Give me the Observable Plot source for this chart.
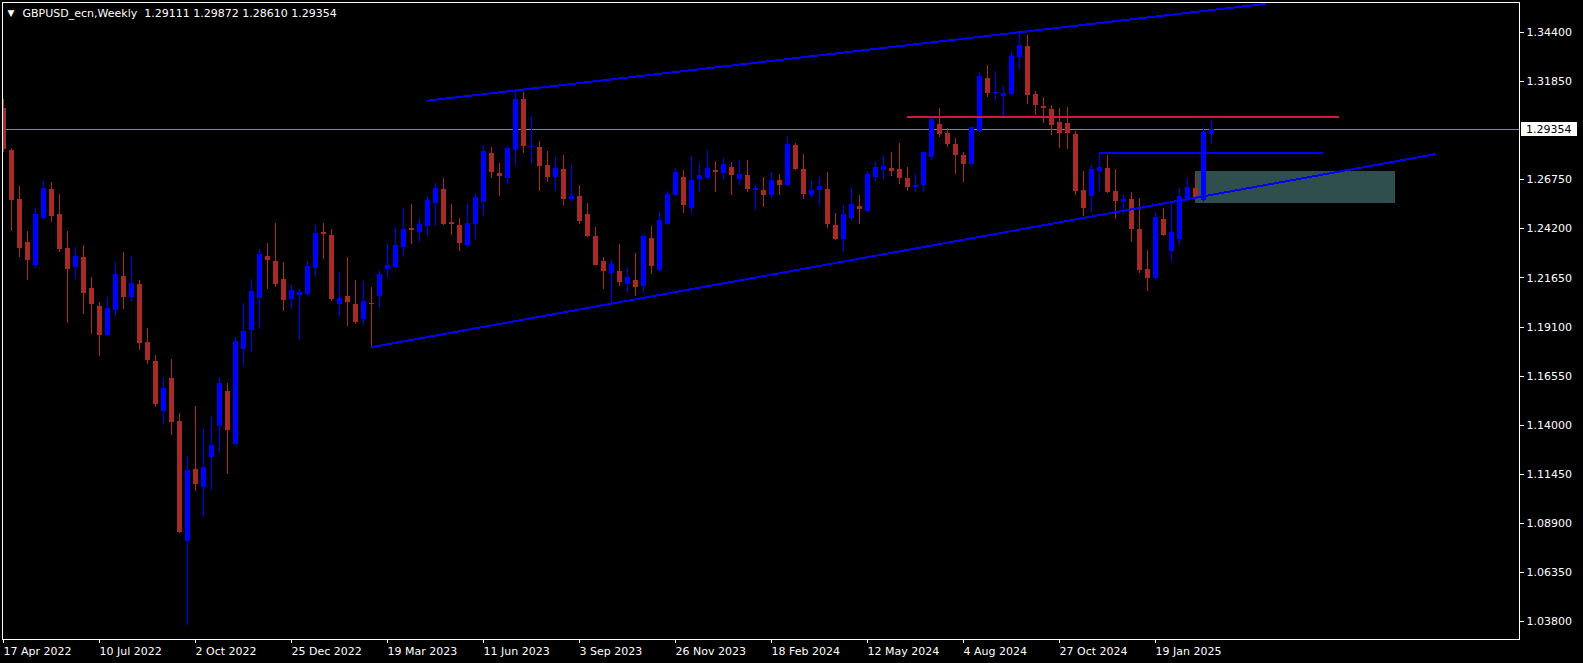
<!DOCTYPE html>
<html>
<head>
<meta charset="utf-8">
<script src="https://cdn.jsdelivr.net/npm/d3@7"></script>
<script src="https://cdn.jsdelivr.net/npm/@observablehq/plot@0.6"></script>
<style>
html, body { margin: 0; padding: 0; background: #000; }
#chart { width: 1583px; height: 663px; overflow: hidden; }
</style>
</head>
<body>
<div id="chart"></div>
<script>
// ---------- data ----------
const symbolTitle = "GBPUSD_ecn,Weekly";
const firstWeek = "2022-04-17"; // week of the first bar (index 0)

const opens = [1.3046,1.2828,1.2573,1.2350,1.2230,1.2476,1.2625,1.2495,1.2318,1.2221,
1.2272,1.2110,1.2017,1.1866,1.1998,1.2173,1.2065,1.2131,1.1830,1.1731,
1.1471,1.1642,1.1419,1.0795,1.1169,1.1076,1.1232,1.1393,1.1575,1.1299,
1.1793,1.1892,1.2058,1.2277,1.2251,1.2157,1.2053,1.2074,1.2079,1.2216,
1.2402,1.2386,1.2029,1.2069,1.2027,1.1951,1.2032,1.2070,1.2209,1.2220,
1.2324,1.2422,1.2402,1.2433,1.2552,1.2625,1.2455,1.2438,1.2334,1.2445,
1.2559,1.2812,1.2708,1.2684,1.2829,1.3093,1.2843,1.2843,1.2750,1.2689,
1.2729,1.2575,1.2589,1.2495,1.2382,1.2251,1.2190,1.2199,1.2133,1.2152,
1.2122,1.2370,1.2206,1.2445,1.2594,1.2687,1.2526,1.2677,1.2682,1.2724,
1.2708,1.2739,1.2677,1.2698,1.2620,1.2620,1.2594,1.2672,1.2646,1.2854,
1.2729,1.2594,1.2620,1.2625,1.2438,1.2365,1.2474,1.2537,1.2511,1.2687,
1.2724,1.2734,1.2729,1.2682,1.2635,1.2646,1.2791,1.2963,1.2916,1.2859,
1.2802,1.2755,1.2927,1.3202,1.3124,1.3109,1.3119,1.3311,1.3368,1.3119,
1.3057,1.3041,1.2973,1.2968,1.2911,1.2620,1.2589,1.2719,1.2734,1.2615,
1.2557,1.2573,1.2417,1.2209,1.2162,1.2469,1.2303,1.2365,1.2573,1.2630,
1.2568,1.29111];

const highs = [1.3091,1.2840,1.2641,1.2407,1.2526,1.2667,1.2661,1.2599,1.2407,1.2324,
1.2334,1.2168,1.2038,1.2064,1.2246,1.2298,1.2277,1.2152,1.1904,1.1762,
1.1648,1.1741,1.1461,1.1237,1.1497,1.1383,1.1440,1.1648,1.1616,1.1856,
1.2032,1.2157,1.2313,1.2344,1.2448,1.2246,1.2126,1.2105,1.2251,1.2438,
1.2448,1.2417,1.2194,1.2272,1.2152,1.2147,1.2117,1.2204,1.2344,1.2428,
1.2526,1.2547,1.2474,1.2583,1.2656,1.2682,1.2547,1.2474,1.2547,1.2599,
1.2849,1.2843,1.2760,1.2849,1.3140,1.3129,1.2999,1.2875,1.2823,1.2791,
1.2802,1.2750,1.2646,1.2552,1.2429,1.2273,1.2261,1.2339,1.2220,1.2292,
1.2391,1.2433,1.2505,1.2615,1.2734,1.2724,1.2797,1.2765,1.2828,1.2771,
1.2786,1.2765,1.2776,1.2776,1.2646,1.2687,1.2713,1.2703,1.2895,1.2864,
1.2807,1.2672,1.2687,1.2713,1.2500,1.2542,1.2635,1.2594,1.2713,1.2765,
1.2802,1.2817,1.2864,1.2739,1.2703,1.2817,1.2994,1.3046,1.2942,1.2890,
1.2817,1.2947,1.3233,1.3270,1.3239,1.3161,1.3343,1.3436,1.3426,1.3135,
1.3103,1.3062,1.3046,1.3051,1.2927,1.2719,1.2750,1.2812,1.2802,1.2729,
1.2594,1.2609,1.2578,1.2308,1.2505,1.2526,1.2557,1.2630,1.2682,1.2715,
1.2947,1.29872];

const lows = [1.2819,1.2408,1.2273,1.2154,1.2216,1.2469,1.2455,1.2299,1.1930,1.2159,
1.1977,1.1873,1.1758,1.1862,1.1961,1.2001,1.2044,1.1790,1.1717,1.1493,
1.1403,1.1346,1.0837,1.0358,1.1055,1.0920,1.1060,1.1253,1.1143,1.1289,
1.1705,1.1778,1.1897,1.2105,1.2116,1.1991,1.2001,1.1840,1.2074,1.2169,
1.2263,1.2044,1.1961,1.1914,1.1925,1.1920,1.1805,1.2008,1.2164,1.2216,
1.2272,1.2339,1.2350,1.2386,1.2433,1.2440,1.2386,1.2303,1.2325,1.2367,
1.2486,1.2684,1.2590,1.2658,1.2746,1.2814,1.2760,1.2616,1.2663,1.2616,
1.2543,1.2559,1.2445,1.2377,1.2228,1.2107,1.2034,1.2122,1.2086,1.2070,
1.2086,1.2185,1.2200,1.2440,1.2589,1.2500,1.2495,1.2609,1.2678,1.2609,
1.2672,1.2594,1.2646,1.2609,1.2516,1.2531,1.2578,1.2594,1.2641,1.2724,
1.2573,1.2583,1.2537,1.2422,1.2362,1.2298,1.2464,1.2443,1.2505,1.2667,
1.2677,1.2693,1.2651,1.2615,1.2611,1.2611,1.2776,1.2895,1.2843,1.2703,
1.2661,1.2745,1.2922,1.3103,1.3083,1.3005,1.3114,1.3244,1.3067,1.3010,
1.2968,1.2906,1.2838,1.2833,1.2594,1.2485,1.2505,1.2615,1.2604,1.2469,
1.2495,1.2350,1.2188,1.2095,1.2157,1.2381,1.2246,1.2329,1.2557,1.2568,
1.2560,1.28610];

const closes = [1.2833,1.2569,1.2320,1.2257,1.2495,1.2630,1.2486,1.2315,1.2211,1.2277,
1.2086,1.2029,1.1868,1.2006,1.2183,1.2065,1.2136,1.1826,1.1738,1.1509,
1.1590,1.1414,1.0842,1.1164,1.1091,1.1180,1.1294,1.1616,1.1372,1.1835,
1.1887,1.2095,1.2287,1.2256,1.2131,1.2048,1.2100,1.2090,1.2225,1.2396,
1.2393,1.2055,1.2058,1.2039,1.1935,1.2043,1.2029,1.2183,1.2230,1.2334,
1.2417,1.2412,1.2443,1.2568,1.2630,1.2443,1.2445,1.2344,1.2447,1.2583,
1.2823,1.2715,1.2694,1.2838,1.3093,1.2850,1.2849,1.2746,1.2687,1.2734,
1.2575,1.2589,1.2460,1.2382,1.2232,1.2199,1.2235,1.2143,1.2168,1.2117,
1.2381,1.2226,1.2464,1.2599,1.2713,1.2542,1.2672,1.2698,1.2734,1.2713,
1.2755,1.2698,1.2703,1.2625,1.2630,1.2594,1.2672,1.2646,1.2859,1.2729,
1.2599,1.2620,1.2641,1.2443,1.2365,1.2495,1.2547,1.2521,1.2703,1.2739,
1.2745,1.2719,1.2682,1.2635,1.2646,1.2817,1.2989,1.2911,1.2859,1.2802,
1.2755,1.2947,1.3213,1.3124,1.3131,1.3124,1.3317,1.3374,1.3114,1.3062,
1.3046,1.2958,1.2916,1.2916,1.2615,1.2526,1.2729,1.2739,1.2609,1.2563,
1.2573,1.2417,1.2204,1.2162,1.2479,1.2386,1.2402,1.2589,1.2635,1.2583,
1.2921,1.29354];

// right-scale labels (1.29300 is covered by the bid label, as in the terminal)
const priceTicks = [1.03800,1.06350,1.08900,1.11450,1.14000,1.16550,1.19100,1.21650,1.24200,1.26750,1.31850,1.34400];
const dateTicks = ["2022-04-17","2022-07-10","2022-10-02","2022-12-25","2023-03-19","2023-06-11",
  "2023-09-03","2023-11-26","2024-02-18","2024-05-12","2024-08-04","2024-10-27","2025-01-19"];

const bidPrice = 1.29354;
// drawn objects: [week index, price]
const upperChannel = [[53, 1.3087], [157.7, 1.3590]];
const lowerChannel = [[46, 1.18051], [178.9, 1.2808]];
const resistanceLevel = {from: 113, to: 167, price: 1.3001};
const breakLevel = {from: 137, to: 165, price: 1.2814};
const demandZone = {from: 149, to: 174, lo: 1.2554, hi: 1.2719};
const priceDomain = [1.02855, 1.35972];
const weekDomain = [-0.125, 189.5];

// ---------- build ----------
const base = new Date(firstWeek + "T00:00:00Z");
const wk = w => new Date(base.getTime() + w * 7 * 864e5);
const candles = opens.map((o, i) => {
  const c = closes[i];
  let bLo = Math.min(o, c), bHi = Math.max(o, c);
  if (bHi - bLo < 0.0006) { const m = (o + c) / 2; bLo = m - 0.0003; bHi = m + 0.0003; }
  return {date: wk(i), o, h: highs[i], l: lows[i], c, bLo, bHi};
});
const up = candles.filter(d => d.c >= d.o);
const down = candles.filter(d => d.c < d.o);
const BULL = "#0000ff", BEAR = "#a52a2a";

const W = 1583, H = 663, mL = 2, mR = 64, mT = 2, mB = 24;
const last = candles[candles.length - 1];
const fmt = v => v.toFixed(5);
const titleText = symbolTitle + "\u00a0\u00a0" + [last.o, last.h, last.l, last.c].map(fmt).join(" ");

const lineData = pts => pts.map(([w, p]) => ({date: wk(w), p}));

const chart = Plot.plot({
  width: W, height: H,
  marginLeft: mL, marginRight: mR, marginTop: mT, marginBottom: mB,
  style: {background: "#000", color: "#fff", fontFamily: "DejaVu Sans", fontSize: "11px", overflow: "visible"},
  x: {type: "utc", domain: weekDomain.map(wk), ticks: dateTicks.map(s => new Date(s + "T00:00:00Z")),
      tickFormat: d3.utcFormat("%-d %b %Y"), tickSize: 4, tickPadding: 4, label: null},
  y: {domain: priceDomain, axis: "right", ticks: priceTicks, tickFormat: fmt, tickSize: 4, tickPadding: 3, label: null},
  marks: [
    Plot.rect([demandZone], {x1: d => wk(d.from), x2: d => wk(d.to), y1: "lo", y2: "hi", fill: "#2f4f4f"}),
    Plot.ruleY([bidPrice], {stroke: "#778899", strokeWidth: 1}),
    Plot.ruleX(up, {x: "date", y1: "l", y2: "h", stroke: BULL, strokeWidth: 1, clip: true}),
    Plot.ruleX(down, {x: "date", y1: "l", y2: "h", stroke: BEAR, strokeWidth: 1, clip: true}),
    Plot.ruleX(up, {x: "date", y1: "bLo", y2: "bHi", stroke: BULL, strokeWidth: 5, clip: true}),
    Plot.ruleX(down, {x: "date", y1: "bLo", y2: "bHi", stroke: BEAR, strokeWidth: 5, clip: true}),
    Plot.line(lineData(upperChannel), {x: "date", y: "p", stroke: "#0000ff", strokeWidth: 2, clip: true}),
    Plot.line(lineData(lowerChannel), {x: "date", y: "p", stroke: "#0000ff", strokeWidth: 2, clip: true}),
    Plot.ruleY([resistanceLevel], {x1: d => wk(d.from), x2: d => wk(d.to), y: "price", stroke: "#dc143c", strokeWidth: 2}),
    Plot.ruleY([breakLevel], {x1: d => wk(d.from), x2: d => wk(d.to), y: "price", stroke: "#0000ff", strokeWidth: 2}),
    Plot.frame({stroke: "#fff"}),
    Plot.text(["\u25bc"], {frameAnchor: "top-left", dx: 8.5, dy: 10.5, text: d => d, fill: "#fff", fontSize: 9, textAnchor: "middle", lineAnchor: "middle"}),
    Plot.text([titleText], {frameAnchor: "top-left", dx: 20, dy: 10.7, text: d => d, fill: "#fff", fontSize: 11, textAnchor: "start", lineAnchor: "middle", ariaLabel: "chart-title"})
  ]
});

const svg = chart.tagName.toLowerCase() === "svg" ? chart : chart.querySelector("svg");
svg.setAttribute("shape-rendering", "crispEdges");
const s = d3.select(svg);
s.selectAll('[aria-label^="x-axis"] text').attr("text-anchor", "start");
s.selectAll('g[aria-label="chart-title"] text').attr("textLength", 318).attr("lengthAdjust", "spacingAndGlyphs");

// bid price label box on the right scale
const yb = chart.scale("y").apply(bidPrice);
const right = W - mR;
const g = s.append("g").attr("aria-label", "bid-label").attr("text-anchor", "start");
g.append("rect").attr("x", right + 2).attr("y", Math.round(yb) - 7).attr("width", 56).attr("height", 14).attr("fill", "#fff");
g.append("text").attr("x", right + 7).attr("y", yb).attr("dy", "0.32em").attr("text-anchor", "start")
  .attr("fill", "#000").attr("font-family", "DejaVu Sans").attr("font-size", 11).text(fmt(bidPrice));

document.getElementById("chart").appendChild(chart);
</script>
</body>
</html>
